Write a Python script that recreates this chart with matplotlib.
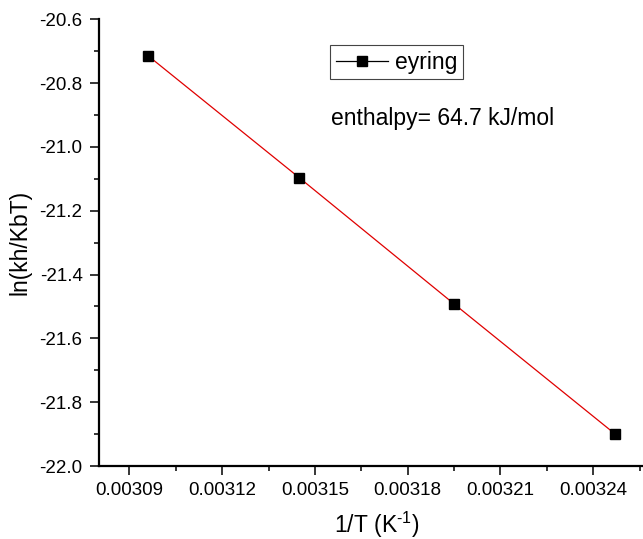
import matplotlib.pyplot as plt
from matplotlib.lines import Line2D
from matplotlib.ticker import MultipleLocator, FormatStrFormatter

# Eyring plot data: 1/T against ln(k h / kB T)
inv_T = [0.003096, 0.003145, 0.003195, 0.003247]
ln_k = [-20.714, -21.097, -21.492, -21.899]
enthalpy_text = 'enthalpy= 64.7 kJ/mol'

plt.rcParams['font.family'] = ['Liberation Sans', 'DejaVu Sans']
plt.rcParams['mathtext.fontset'] = 'custom'
plt.rcParams['mathtext.rm'] = 'Liberation Sans'

fig = plt.figure(figsize=(6.43, 5.39), dpi=100)
# axis runs past the right border of the figure
ax = fig.add_axes([98.5 / 643, 1 - 466 / 539, 556.5 / 643, 446.7 / 539])

ax.plot(inv_T, ln_k, color='#e00000', lw=0.9, zorder=2)
ax.plot(inv_T, ln_k, ls='none', marker='s', ms=7.2, color='black', zorder=3)

ax.set_xlim(0.00308, 0.00326)
ax.set_ylim(-22.0, -20.6)
ax.xaxis.set_major_locator(MultipleLocator(0.00003))
ax.xaxis.set_minor_locator(MultipleLocator(0.000015))
ax.yaxis.set_major_locator(MultipleLocator(0.2))
ax.yaxis.set_minor_locator(MultipleLocator(0.1))
ax.xaxis.set_major_formatter(FormatStrFormatter('%.5f'))
ax.yaxis.set_major_formatter(FormatStrFormatter('%.1f'))
ax.set_xticks([0.00309, 0.00312, 0.00315, 0.00318, 0.00321, 0.00324])

for side in ('top', 'right'):
    ax.spines[side].set_visible(False)
for side in ('left', 'bottom'):
    ax.spines[side].set_linewidth(1.6)

ax.tick_params(which='major', direction='out', length=6.5, width=1.1,
               labelsize=13.5, pad=5)
ax.tick_params(which='minor', direction='out', length=3.5, width=1.1)

ax.set_xlabel(r'1/T (K$^{\text{-1}}$)', fontsize=16.5, labelpad=8)
ax.set_ylabel('ln(kh/KbT)', fontsize=16.5, labelpad=6)

handle = Line2D([], [], color='black', lw=0.9, marker='s', ms=7.2)
leg = ax.legend([handle], ['eyring'], loc='upper left',
                bbox_to_anchor=(0.416, 0.9425), borderaxespad=0,
                fontsize=16.5, handlelength=2.3, handletextpad=0.3,
                borderpad=0.25, fancybox=False, framealpha=1)
leg.get_frame().set_edgecolor('#444444')
leg.get_frame().set_linewidth(0.8)

ax.text(0.4178, 0.7634, enthalpy_text, transform=ax.transAxes,
        fontsize=16.5, va='baseline', ha='left')

fig.savefig('out.png', dpi=100)
